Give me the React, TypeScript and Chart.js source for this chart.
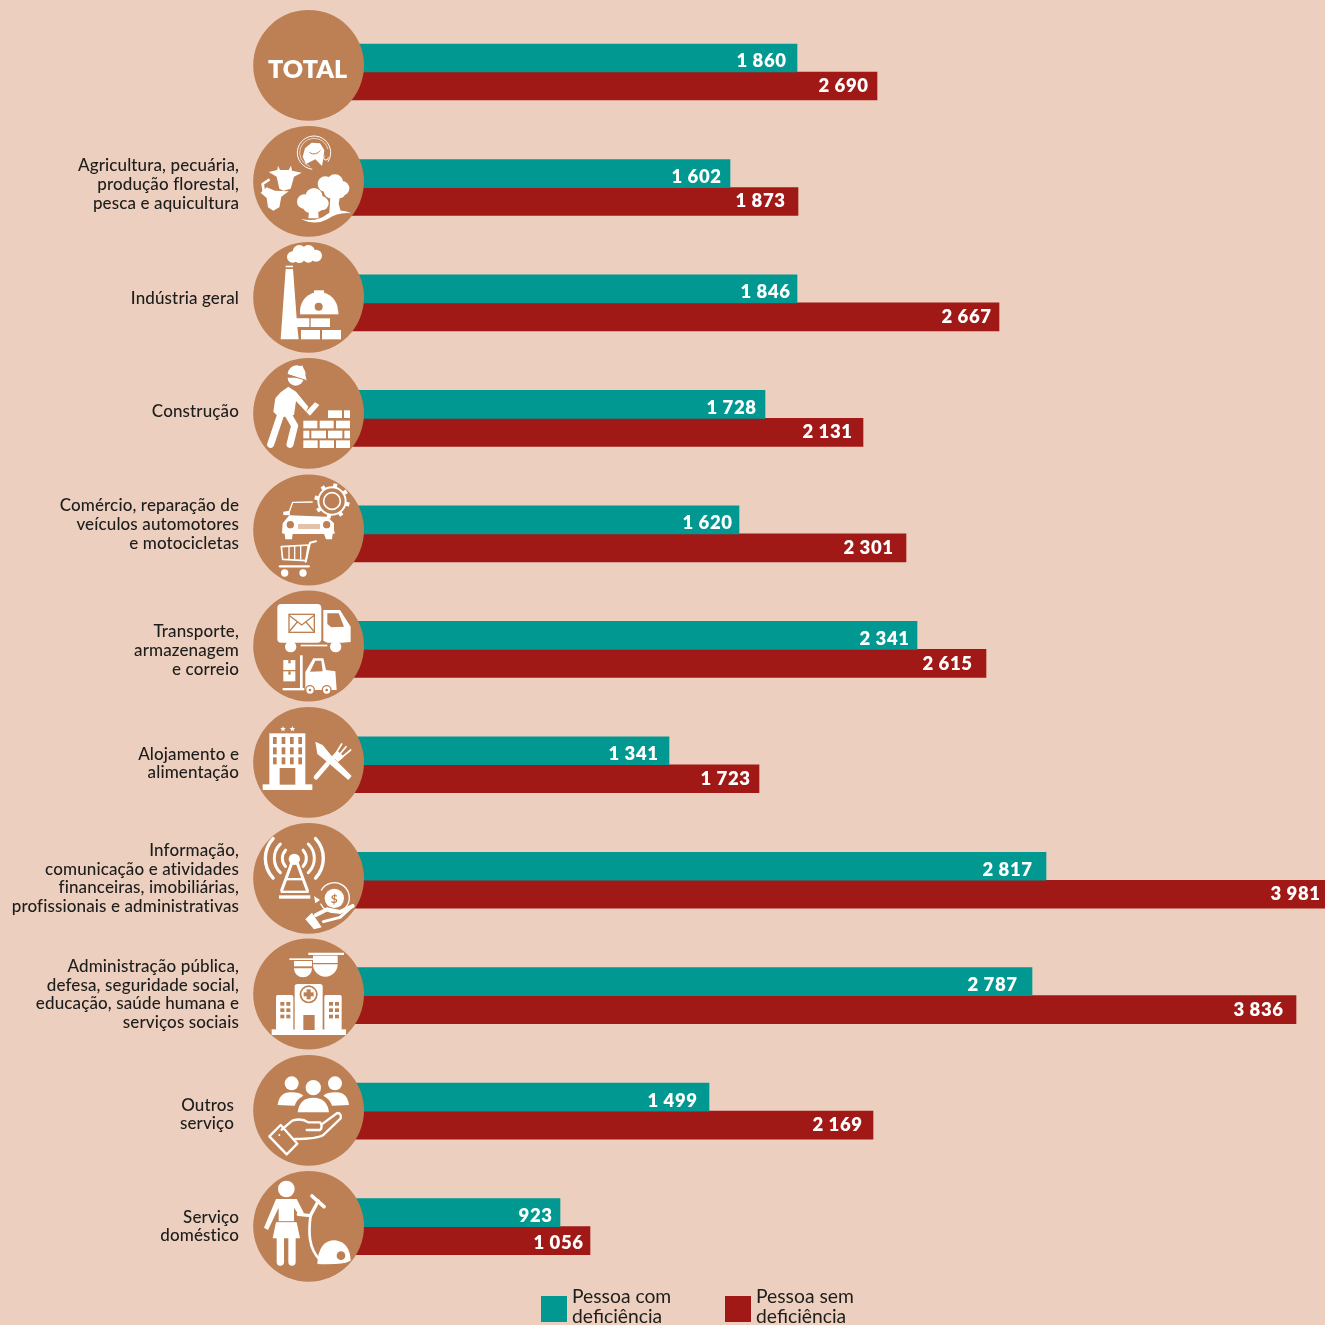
import React, { useEffect, useRef } from "react";
import { Chart, registerables } from "chart.js";

Chart.register(...registerables);

// ---- data ----
const categories = ["TOTAL", "Agricultura", "Indústria geral", "Construção", "Comércio", "Transporte", "Alojamento", "Informação", "Administração pública", "Outros serviço", "Serviço doméstico"];
const labelLines = [
  [],
  ["Agricultura, pecuária,", "produção florestal,", "pesca e aquicultura"],
  ["Indústria geral"],
  ["Construção"],
  ["Comércio, reparação de", "veículos automotores", "e motocicletas"],
  ["Transporte,", "armazenagem", "e correio"],
  ["Alojamento e", "alimentação"],
  ["Informação,", "comunicação e atividades", "financeiras, imobiliárias,", "profissionais e administrativas"],
  ["Administração pública,", "defesa, seguridade social,", "educação, saúde humana e", "serviços sociais"],
  ["Outros", "serviço"],
  ["Serviço", "doméstico"],
];
// printed values
const comLabels = ["1 860", "1 602", "1 846", "1 728", "1 620", "2 341", "1 341", "2 817", "2 787", "1 499", "923"];
const semLabels = ["2 690", "1 873", "2 667", "2 131", "2 301", "2 615", "1 723", "3 981", "3 836", "2 169", "1 056"];
// bar lengths as drawn in the picture (the reference's bars do not follow the printed values exactly)
const comBars = [1868, 1600, 1868, 1740, 1636, 2348, 1356, 2864, 2808, 1516, 920];
const semBars = [2188, 1872, 2676, 2132, 2304, 2624, 1716, 3980, 3864, 2172, 1040];

// ---- layout / style ----
const BG = "#ECCFBF", TEAL = "#009891", RED = "#A01916", DISC = "#BC8054", INK = "#1D1D1B";
const FONT = "Lato";
const DISC_Y = [65.3, 181.3, 297.3, 413.3, 530, 646, 762.3, 878.3, 994, 1110.3, 1226.3];
const LABEL_Y = [0, 184.5, 298.5, 411.5, 524.5, 650.5, 763.5, 878.5, 994.5, 1114.5, 1226.5];
const LABEL_X = [239, 239, 239, 239, 239, 239, 239, 239, 239, 234, 239];
const COM_INSET = [11, 9, 7, 9, 7, 8, 11, 14, 15, 12, 8];
const SEM_INSET = [9, 13, 8, 11, 13, 14, 9, 5, 13, 11, 7];
const SEM_NUDGE = [0, 0, 0, 0, 0, 1, 0, 0, 0, 0, 2];

type C = CanvasRenderingContext2D;
const poly = (c: C, ...p: number[]) => {
  c.beginPath();
  c.moveTo(p[0], p[1]);
  for (let i = 2; i < p.length; i += 2) c.lineTo(p[i], p[i + 1]);
  c.closePath();
  c.fill();
};
const rect = (c: C, x: number, y: number, w: number, h: number) => c.fillRect(x, y, w, h);
const circ = (c: C, x: number, y: number, r: number) => {
  c.beginPath();
  c.arc(x, y, r, 0, Math.PI * 2);
  c.fill();
};
const line = (c: C, w: number, ...p: number[]) => {
  c.lineWidth = w;
  c.lineCap = "round";
  c.lineJoin = "round";
  c.beginPath();
  c.moveTo(p[0], p[1]);
  for (let i = 2; i < p.length; i += 2) c.lineTo(p[i], p[i + 1]);
  c.stroke();
};
const arc = (c: C, w: number, x: number, y: number, r: number, a: number, b: number) => {
  c.lineWidth = w;
  c.lineCap = "round";
  c.beginPath();
  c.arc(x, y, r, a, b);
  c.stroke();
};
const dome = (c: C, x: number, y: number, r: number) => {
  c.beginPath();
  c.arc(x, y, r, Math.PI, 0);
  c.closePath();
  c.fill();
};
const bowl = (c: C, x: number, y: number, r: number) => {
  c.beginPath();
  c.arc(x, y, r, 0, Math.PI);
  c.closePath();
  c.fill();
};
const star = (c: C, x: number, y: number, r: number) => {
  const p: number[] = [];
  for (let i = 0; i < 10; i++) {
    const a = -Math.PI / 2 + (i * Math.PI) / 5;
    const q = i % 2 ? r * 0.42 : r;
    p.push(x + q * Math.cos(a), y + q * Math.sin(a));
  }
  poly(c, ...p);
};

// Icons are drawn in the coordinates of a 3x crop whose origin is given by each entry.
const icons: { ox: number; oy: number; draw: (c: C) => void }[] = [
  { ox: 240, oy: 0, draw: (c) => {
    // fish in ring
    arc(c, 3, 222, 458, 50, 1.7, 0.55);
    arc(c, 2, 222, 458, 43, 1.9, 6.0);
    arc(c, 3, 258, 473, 7, 0, 4);
    poly(c, 188, 470, 195, 445, 215, 428, 240, 430, 253, 450, 250, 475, 246, 498, 226, 478, 198, 492);
    c.strokeStyle = DISC; arc(c, 3, 222, 440, 22, 0.6, 2.2); c.strokeStyle = "#fff";
    // cows
    poly(c, 86, 516, 112, 510, 114, 497, 120, 510, 146, 510, 153, 497, 156, 512, 185, 518, 162, 530, 152, 566, 130, 572, 118, 566, 110, 530);
    line(c, 8, 86, 540, 68, 552, 72, 578);
    poly(c, 62, 578, 80, 562, 105, 572, 146, 574, 124, 590, 118, 622, 100, 632, 84, 622, 80, 594);
    // trees
    for (const [x, y, r] of [[256, 552, 23], [285, 548, 25], [306, 565, 22], [275, 572, 24], [300, 580, 15]]) circ(c, x, y, r);
    poly(c, 272, 575, 302, 575, 296, 612, 302, 632, 268, 640);
    for (const [x, y, r] of [[193, 605, 22], [222, 590, 26], [245, 610, 21], [210, 618, 21], [232, 622, 14]]) circ(c, x, y, r);
    poly(c, 208, 625, 234, 625, 236, 655, 205, 655);
    c.beginPath(); c.moveTo(183, 657); c.quadraticCurveTo(230, 668, 262, 642); c.quadraticCurveTo(295, 622, 335, 640);
    c.quadraticCurveTo(295, 635, 262, 658); c.quadraticCurveTo(225, 678, 183, 657); c.fill();
  } },
  { ox: 240, oy: 235, draw: (c) => {
    // factory
    poly(c, 122, 313, 137, 102, 159, 102, 170, 250, 208, 250, 208, 276, 172, 276, 176, 313);
    rect(c, 137, 92, 22, 5);
    for (const [x, y, r] of [[158, 66, 17], [178, 50, 20], [205, 50, 20], [228, 62, 18], [205, 66, 17], [178, 68, 16]]) circ(c, x, y, r);
    rect(c, 212, 250, 58, 26); rect(c, 183, 285, 57, 28); rect(c, 246, 285, 57, 28);
    // helmet
    dome(c, 237, 228, 57); rect(c, 180, 228, 115, 10); rect(c, 222, 166, 30, 30);
    c.fillStyle = DISC; circ(c, 236, 215, 12); c.fillStyle = "#fff";
    // worker
    dome(c, 170, 418, 27);
    poly(c, 143, 417, 200, 437, 196, 420, 188, 392, 165, 394);
    bowl(c, 167, 428, 24);
    c.strokeStyle = DISC; line(c, 3, 143, 419, 198, 436); c.strokeStyle = "#fff";
    poly(c, 122, 472, 145, 455, 168, 470, 205, 515, 198, 530, 168, 498, 162, 540, 118, 548, 100, 530, 106, 490);
    line(c, 21, 120, 545, 92, 628);
    line(c, 21, 145, 540, 164, 572, 150, 628);
    poly(c, 198, 530, 225, 502, 238, 510, 210, 542);
    // bricks
    for (const [x, y, w, h] of [[264, 526, 42, 23], [312, 526, 18, 23], [190, 557, 42, 23], [239, 557, 42, 23], [288, 557, 42, 23], [190, 587, 18, 23], [214, 587, 44, 23], [264, 587, 43, 23], [313, 587, 17, 23], [190, 616, 43, 23], [239, 616, 43, 23], [288, 616, 42, 23]]) rect(c, x, y, w, h);
  } },
  { ox: 240, oy: 470, draw: (c) => {
    // car
    c.lineWidth = 4; c.lineJoin = "round"; c.beginPath(); c.moveTo(218, 96); c.lineTo(158, 97); c.lineTo(146, 130); c.stroke();
    poly(c, 130, 125, 148, 122, 150, 136, 130, 135);
    poly(c, 148, 136, 262, 140, 282, 160, 282, 182, 285, 190, 278, 192, 276, 208, 258, 208, 252, 192, 158, 192, 156, 208, 136, 208, 134, 192, 126, 190, 128, 160);
    c.fillStyle = DISC; circ(c, 151, 164, 11); circ(c, 260, 164, 11); c.fillStyle = "#E3C2AC"; rect(c, 174, 162, 66, 15); c.fillStyle = "#fff";
    // gear
    c.strokeStyle = "#fff"; arc(c, 5, 276, 93, 25, 0, 7); arc(c, 6, 276, 93, 41, 0, 7);
    for (let i = 0; i < 8; i++) { const a = (i * Math.PI) / 4 + 0.2; c.lineCap = "butt"; c.lineWidth = 12; c.beginPath(); c.moveTo(276 + 41 * Math.cos(a), 93 + 41 * Math.sin(a)); c.lineTo(276 + 53 * Math.cos(a), 93 + 53 * Math.sin(a)); c.stroke(); }
    // cart
    c.lineWidth = 5; c.lineCap = "round"; c.beginPath(); c.moveTo(124, 230); c.lineTo(205, 225); c.lineTo(198, 272); c.lineTo(128, 268); c.closePath(); c.stroke();
    for (const x of [145, 162, 180]) rect(c, x, 228, 4, 40);
    line(c, 6, 197, 275, 210, 218, 228, 214);
    line(c, 7, 120, 289, 206, 289);
    circ(c, 134, 309, 11); circ(c, 189, 309, 11);
    // truck
    c.beginPath(); c.roundRect(112, 402, 132, 116, 12); c.fill();
    c.fillStyle = DISC; rect(c, 145, 431, 80, 58); c.fillStyle = "#fff"; rect(c, 149, 435, 72, 50);
    c.strokeStyle = DISC; line(c, 4, 149, 437, 185, 465, 221, 437); line(c, 4, 149, 483, 172, 456); line(c, 4, 221, 483, 198, 456); c.strokeStyle = "#fff";
    poly(c, 250, 420, 300, 420, 332, 470, 332, 516, 306, 518, 262, 518, 250, 512);
    c.fillStyle = DISC; poly(c, 262, 430, 296, 430, 312, 470, 274, 472, 262, 462); c.fillStyle = "#fff";
    circ(c, 152, 530, 17); circ(c, 287, 530, 17); rect(c, 182, 524, 80, 5);
    // forklift
    rect(c, 130, 570, 36, 30); rect(c, 130, 604, 36, 30); rect(c, 180, 556, 8, 100); rect(c, 128, 654, 65, 7);
    c.fillStyle = DISC; rect(c, 145, 570, 7, 10); rect(c, 145, 604, 7, 10); c.fillStyle = "#fff";
    poly(c, 196, 640, 196, 606, 220, 565, 250, 565, 258, 600, 286, 604, 290, 660, 196, 660);
    c.fillStyle = DISC; poly(c, 210, 605, 226, 572, 244, 572, 248, 604); circ(c, 210, 660, 15); circ(c, 260, 660, 15); c.fillStyle = "#fff";
    circ(c, 210, 660, 11); circ(c, 260, 660, 11); c.fillStyle = DISC; circ(c, 210, 660, 4); circ(c, 260, 660, 4); c.fillStyle = "#fff";
  } },
  { ox: 240, oy: 700, draw: (c) => {
    // hotel
    star(c, 129, 87, 9); star(c, 157, 87, 9);
    rect(c, 88, 100, 108, 155); rect(c, 68, 253, 149, 17);
    c.fillStyle = DISC;
    for (const y of [111, 142, 172]) for (const x of [99, 125, 150, 175]) rect(c, x, y, 11, 21);
    rect(c, 119, 204, 47, 50); c.fillStyle = "#fff";
    // knife & fork
    poly(c, 226, 125, 248, 135, 275, 168, 335, 228, 325, 240, 262, 186, 232, 162);
    line(c, 14, 262, 192, 228, 232);
    line(c, 11, 282, 172, 262, 190);
    line(c, 5, 285, 165, 305, 132);
    line(c, 5, 292, 172, 318, 140);
    line(c, 5, 298, 178, 332, 150);
    poly(c, 276, 168, 292, 152, 312, 170, 294, 186);
    // antenna
    c.strokeStyle = "#fff";
    circ(c, 163, 478, 17);
    c.lineWidth = 9; c.lineJoin = "miter"; c.lineCap = "butt"; c.beginPath(); c.moveTo(124, 574); c.lineTo(155, 490); c.moveTo(203, 574); c.lineTo(172, 490); c.stroke();
    rect(c, 122, 572, 84, 7); rect(c, 117, 586, 94, 10); rect(c, 136, 534, 56, 7);
    for (const [r, w, s] of [[36, 9, 0.75], [60, 9, 0.8], [87, 10, 0.75]]) {
      arc(c, w, 163, 475, r, Math.PI - s, Math.PI + s);
      arc(c, w, 163, 475, r, -s, s);
    }
    // coin & hand
    arc(c, 4, 283, 593, 45, -2.6, 2.7);
    circ(c, 283, 595, 29);
    c.fillStyle = DISC; c.font = "bold 36px " + FONT; c.textAlign = "center"; c.textBaseline = "middle"; c.fillText("$", 283, 596); c.fillStyle = "#fff";
    poly(c, 222, 588, 240, 600, 226, 610);
    poly(c, 196, 658, 216, 638, 245, 682, 222, 688);
    c.strokeStyle = "#fff"; line(c, 12, 228, 645, 262, 628, 300, 636, 338, 618);
    line(c, 9, 338, 618, 300, 652, 250, 665);
  } },
  { ox: 240, oy: 935, draw: (c) => {
    // graduates
    poly(c, 148, 70, 222, 70, 222, 75, 148, 75); bowl(c, 189, 100, 27); rect(c, 162, 78, 54, 18);
    poly(c, 205, 53, 312, 53, 312, 60, 205, 60); bowl(c, 256, 88, 37); rect(c, 219, 62, 74, 22);
    c.fillStyle = DISC; rect(c, 162, 94, 54, 3); rect(c, 219, 84, 74, 3); c.fillStyle = "#fff";
    // hospital
    c.beginPath(); c.roundRect(164, 147, 84, 140, 8); c.fill();
    c.beginPath(); c.roundRect(108, 180, 52, 105, 5); c.fill();
    c.beginPath(); c.roundRect(253, 180, 52, 105, 5); c.fill();
    rect(c, 95, 283, 223, 17);
    c.fillStyle = DISC; circ(c, 206, 178, 27); c.fillStyle = "#fff"; circ(c, 206, 178, 22);
    c.fillStyle = DISC; rect(c, 200, 163, 12, 30); rect(c, 191, 172, 30, 12); rect(c, 190, 240, 34, 45);
    for (const ox of [121, 267]) for (const dy of [201, 220, 239]) for (const dx of [0, 18]) rect(c, ox + dx, dy, 12, 11);
    c.fillStyle = "#fff";
    // people
    circ(c, 155, 445, 21); circ(c, 285, 445, 21); circ(c, 220, 458, 23);
    c.beginPath(); c.moveTo(113, 510); c.quadraticCurveTo(118, 470, 155, 472); c.quadraticCurveTo(178, 472, 190, 482); c.quadraticCurveTo(170, 492, 164, 512); c.closePath(); c.fill();
    c.beginPath(); c.moveTo(327, 510); c.quadraticCurveTo(322, 470, 285, 472); c.quadraticCurveTo(262, 472, 250, 482); c.quadraticCurveTo(270, 492, 276, 512); c.closePath(); c.fill();
    c.beginPath(); c.moveTo(173, 532); c.quadraticCurveTo(178, 488, 220, 488); c.quadraticCurveTo(262, 488, 267, 532); c.closePath(); c.fill();
    // hand outline
    c.strokeStyle = "#fff"; c.lineWidth = 7; c.lineJoin = "round"; c.lineCap = "round";
    c.beginPath(); c.moveTo(125, 584); c.lineTo(157, 557); c.quadraticCurveTo(185, 548, 205, 562); c.lineTo(240, 562); c.quadraticCurveTo(250, 575, 240, 585); c.lineTo(200, 585); c.stroke();
    c.beginPath(); c.moveTo(245, 568); c.lineTo(292, 534); c.quadraticCurveTo(305, 535, 302, 550); c.lineTo(250, 600); c.quadraticCurveTo(230, 612, 165, 612); c.stroke();
    c.beginPath(); c.moveTo(88, 604); c.lineTo(122, 570); c.lineTo(172, 626); c.lineTo(140, 658); c.closePath(); c.stroke();
    circ(c, 118, 600, 3);
  } },
  { ox: 240, oy: 1165, draw: (c) => {
    // person
    circ(c, 139, 72, 25);
    poly(c, 108, 102, 170, 102, 192, 145, 178, 152, 162, 128, 162, 170, 170, 172, 180, 220, 98, 220, 108, 172, 116, 170, 116, 128, 84, 195, 72, 188);
    c.strokeStyle = "#fff";
    line(c, 22, 121, 220, 121, 291);
    line(c, 22, 156, 220, 156, 291);
    c.strokeStyle = DISC; line(c, 3, 106, 170, 172, 170); c.strokeStyle = "#fff";
    // vacuum
    line(c, 11, 216, 93, 252, 125);
    line(c, 10, 235, 108, 212, 150);
    line(c, 10, 175, 148, 212, 152);
    c.lineWidth = 8; c.beginPath(); c.moveTo(212, 150); c.bezierCurveTo(205, 200, 205, 250, 240, 285); c.stroke();
    c.beginPath(); c.moveTo(232, 297); c.quadraticCurveTo(235, 226, 285, 226); c.quadraticCurveTo(330, 232, 332, 287); c.quadraticCurveTo(310, 300, 232, 297); c.fill();
    c.fillStyle = DISC; circ(c, 303, 272, 13); c.fillStyle = "#fff";
  } },
];

const decor = {
  id: "decor",
  afterDatasetsDraw(chart: Chart) {
    const c = chart.ctx as any;
    const xs = chart.scales.x;
    const ys = chart.scales.y;
    c.save();
    // value labels
    c.font = `800 18.5px ${FONT}`;
    c.letterSpacing = "0.6px";
    c.fillStyle = "#fff";
    c.textAlign = "right";
    c.textBaseline = "middle";
    categories.forEach((_, i) => {
      const yc = ys.getPixelForValue(i);
      c.fillText(comLabels[i], xs.getPixelForValue(comBars[i]) - COM_INSET[i] + 0.6, yc - 14 + 3.5);
      c.fillText(semLabels[i], xs.getPixelForValue(semBars[i]) - SEM_INSET[i] + 0.6, yc + 14 + SEM_NUDGE[i]);
    });
    // discs
    DISC_Y.forEach((y) => {
      c.fillStyle = DISC;
      c.beginPath();
      c.arc(308.6, y, 55.4, 0, Math.PI * 2);
      c.fill();
    });
    c.fillStyle = "#fff";
    c.font = `800 25px ${FONT}`;
    c.letterSpacing = "0px";
    c.textAlign = "center";
    c.fillText(categories[0], 307.5, 70);
    // icons
    icons.forEach(({ ox, oy, draw }) => {
      c.save();
      c.translate(ox, oy);
      c.scale(1 / 3, 1 / 3);
      c.fillStyle = "#fff";
      c.strokeStyle = "#fff";
      draw(c);
      c.restore();
    });
    // category labels
    c.fillStyle = INK;
    c.font = `500 17px ${FONT}`;
    c.letterSpacing = "0.12px";
    c.textAlign = "right";
    c.textBaseline = "middle";
    labelLines.forEach((lines, i) => {
      const h = 18.7;
      lines.forEach((t, k) => c.fillText(t, LABEL_X[i], LABEL_Y[i] + (k - (lines.length - 1) / 2) * h));
    });
    // legend
    const legend: [string, string, string, number][] = [
      [TEAL, "Pessoa com", "deficiência", 541],
      [RED, "Pessoa sem", "deficiência", 725],
    ];
    c.textAlign = "left";
    c.textBaseline = "alphabetic";
    c.letterSpacing = "0px";
    c.font = `400 19.3px ${FONT}`;
    legend.forEach(([col, a, b, x]) => {
      c.fillStyle = col;
      c.fillRect(x, 1296, 26, 26);
      c.fillStyle = INK;
      c.fillText(a, x + 31, 1303);
      c.fillText(b, x + 31, 1323);
    });
    c.restore();
  },
};

export default function App() {
  const ref = useRef<HTMLCanvasElement>(null);
  useEffect(() => {
    document.body.style.margin = "0";
    document.body.style.background = BG;
    const chart = new Chart(ref.current!, {
      type: "bar",
      data: {
        labels: categories,
        datasets: [
          { label: "Pessoa com deficiência", data: comBars, backgroundColor: TEAL, barThickness: 28 },
          { label: "Pessoa sem deficiência", data: semBars, backgroundColor: RED, barThickness: 28 },
        ],
      },
      options: {
        indexAxis: "y",
        animation: false,
        responsive: false,
        layout: { padding: { left: 330, top: 14.3, bottom: 40.7, right: 0 } },
        plugins: { legend: { display: false }, tooltip: { enabled: false }, title: { display: false } },
        scales: {
          x: { display: false, min: 0, max: 3980 },
          y: { display: false, offset: true, grid: { display: false } },
        },
      },
      plugins: [decor],
    });
    return () => chart.destroy();
  }, []);
  return (
    <div style={{ position: "absolute", left: 0, top: 0, width: 1325, height: 1325, background: BG, overflow: "hidden" }}>
      <canvas ref={ref} width={1325} height={1325} style={{ display: "block" }} />
    </div>
  );
}
